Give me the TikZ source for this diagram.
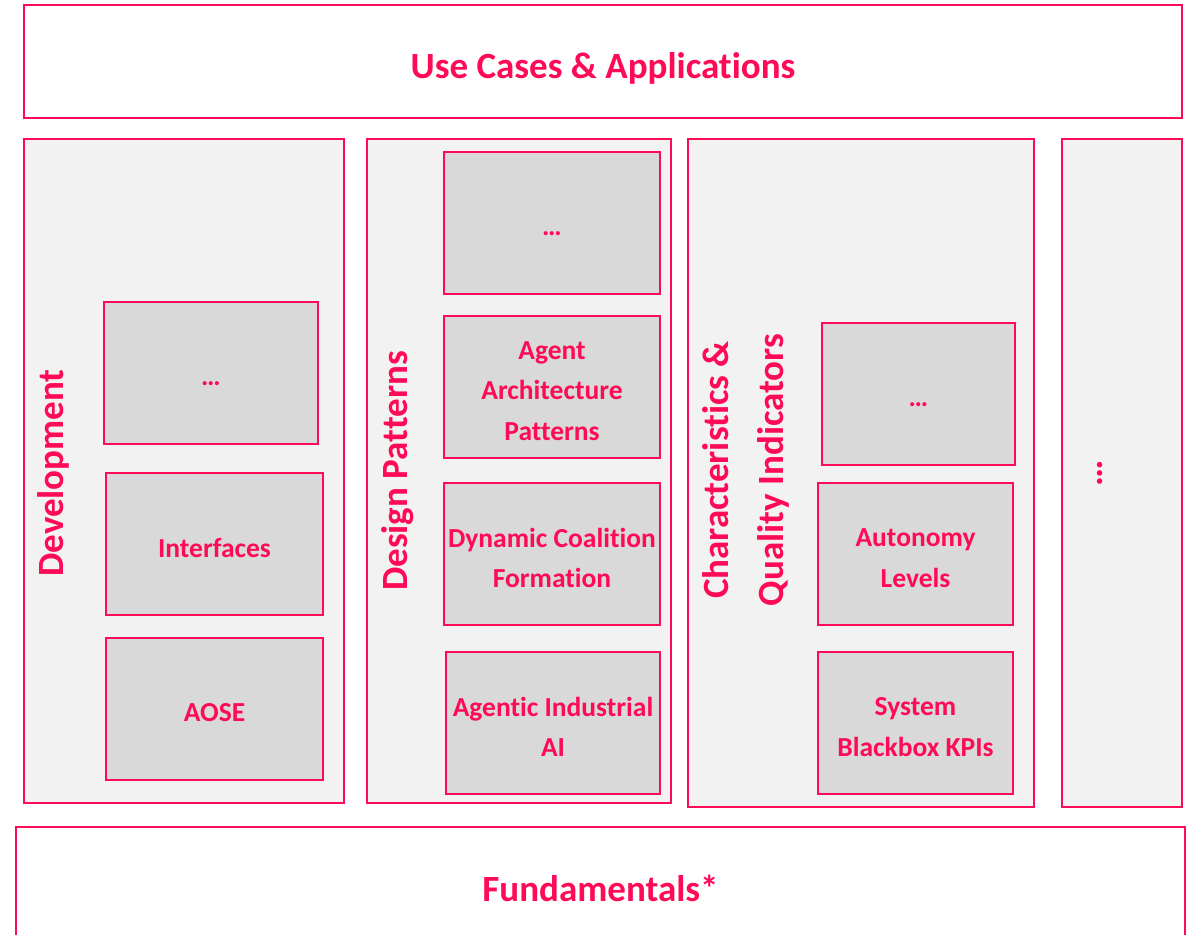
\documentclass[tikz,border=0pt]{standalone}
\usepackage{fontspec}
\setmainfont[Ligatures=NoCommon]{Carlito}
\definecolor{accent}{HTML}{FF0A56}
\definecolor{colfill}{HTML}{F2F2F2}
\definecolor{boxfill}{HTML}{D9D9D9}
\begin{document}
\begin{tikzpicture}[x=1pt,y=-1pt,
  frame/.style={draw=accent, line width=2pt, fill=white, inner sep=0pt},
  column/.style={draw=accent, line width=2pt, fill=colfill, inner sep=0pt},
  item/.style={draw=accent, line width=2pt, fill=boxfill, inner sep=0pt},
  itemtext/.style={align=center, inner sep=0pt, text=accent,
    font=\bfseries\fontsize{27.5}{40.5}\selectfont},
  big/.style={text=accent, font=\bfseries\fontsize{37}{44}\selectfont},
  side/.style={text=accent, rotate=90, align=center, font=\bfseries\fontsize{37}{55}\selectfont}]
\useasboundingbox (0,0) rectangle (1195,935);
\clip (0,0) rectangle (1195,935);
% top and bottom
\node[frame, minimum width=1158pt, minimum height=113pt] (top) at (603,61.5) {};
\node[big] (toplabel) at ([yshift=-7pt]top.center) {Use Cases \& Applications};
\node[frame, minimum width=1169pt, minimum height=118pt] (bottom) at (600.5,886) {};
\node[big] (botlabel) at (600.5,888) {Fundamentals*};
% columns
\node[column, minimum width=320pt, minimum height=664pt] (dev) at (184,471) {};
\node[column, minimum width=304pt, minimum height=664pt] (des) at (519,471) {};
\node[column, minimum width=346pt, minimum height=668pt] (cha) at (861,473) {};
\node[column, minimum width=120pt, minimum height=668pt] (rgt) at (1122,473) {};
% column labels
\node[side] (devlabel) at (53,473) {Development};
\node[side] (deslabel) at (398,471) {Design Patterns};
\node[side] (chalabel) at (746,470) {Characteristics \&\\Quality Indicators};
\node[side] (rgtlabel) at (1100,473) {…};
% development items
\node[item, minimum width=214pt, minimum height=142pt] (d1) at (211,373) {};
\node[itemtext] (d1t) at ([yshift=-11pt]d1.center) {…};
\node[item, minimum width=217pt, minimum height=142pt] (d2) at (214.5,544) {};
\node[itemtext] (d2t) at ([yshift=-4pt]d2.center) {Interfaces};
\node[item, minimum width=217pt, minimum height=142pt] (d3) at (214.5,709) {};
\node[itemtext] (d3t) at ([yshift=-4pt]d3.center) {AOSE};
% design pattern items
\node[item, minimum width=216pt, minimum height=142pt] (p1) at (552,223) {};
\node[itemtext] (p1t) at ([yshift=-11pt]p1.center) {…};
\node[item, minimum width=216pt, minimum height=142pt] (p2) at (552,387) {};
\node[itemtext] (p2t) at ([yshift=-4pt]p2.center) {Agent\\Architecture\\Patterns};
\node[item, minimum width=216pt, minimum height=142pt] (p3) at (552,554) {};
\node[itemtext] (p3t) at ([yshift=-4pt]p3.center) {Dynamic Coalition\\Formation};
\node[item, minimum width=214pt, minimum height=142pt] (p4) at (553,723) {};
\node[itemtext] (p4t) at ([yshift=-4pt]p4.center) {Agentic Industrial\\AI};
% characteristics items
\node[item, minimum width=193pt, minimum height=142pt] (c1) at (918.5,394) {};
\node[itemtext] (c1t) at ([yshift=-11pt]c1.center) {…};
\node[item, minimum width=195pt, minimum height=142pt] (c2) at (915.5,554) {};
\node[itemtext] (c2t) at ([yshift=-4pt]c2.center) {Autonomy\\Levels};
\node[item, minimum width=195pt, minimum height=142pt] (c3) at (915.5,723) {};
\node[itemtext] (c3t) at ([yshift=-4pt]c3.center) {System\\Blackbox KPIs};
\end{tikzpicture}
\end{document}
